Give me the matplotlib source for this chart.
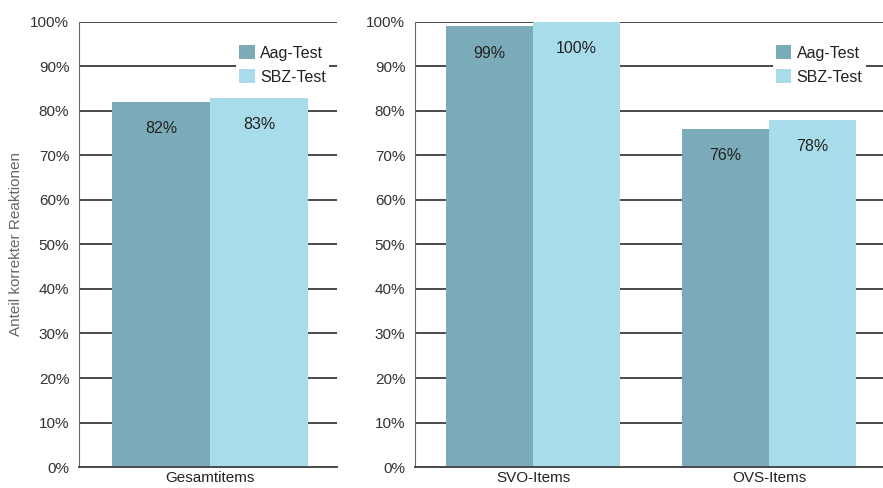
import matplotlib
matplotlib.use("Agg")
import matplotlib.pyplot as plt

# Werte (Anteil korrekter Reaktionen in %)
series = ["Aag-Test", "SBZ-Test"]
left_cats = ["Gesamtitems"]
left_aag = [82]
left_sbz = [83]
right_cats = ["SVO-Items", "OVS-Items"]
right_aag = [99, 76]
right_sbz = [100, 78]
yticks = list(range(0, 101, 10))

col_aag = "#7babb8"
col_sbz = "#a9dcea"
grid_col = "#4a4a4a"
txt_col = "#333333"

plt.rcParams["font.family"] = ["Liberation Sans", "DejaVu Sans"]

fig = plt.figure(figsize=(8.83, 4.88), dpi=100)
ax1 = fig.add_axes([0.0895, 0.043, 0.2922, 0.912])
ax2 = fig.add_axes([0.470, 0.043, 0.5345, 0.912])

w = 0.37


def draw(ax, cats, aag, sbz, xlim, leg_anchor):
    xs = list(range(len(cats)))
    ax.set_axisbelow(True)
    ax.yaxis.grid(True, color=grid_col, linewidth=1.4)
    b1 = ax.bar([x - w / 2 for x in xs], aag, width=w, color=col_aag, label=series[0], zorder=2)
    b2 = ax.bar([x + w / 2 for x in xs], sbz, width=w, color=col_sbz, label=series[1], zorder=2)
    for bars, vals in ((b1, aag), (b2, sbz)):
        for b, v in zip(bars, vals):
            ax.text(b.get_x() + b.get_width() / 2, v - 6, f"{v}%", ha="center", va="center",
                    fontsize=11.5, color="#222222", zorder=3)
    ax.set_ylim(0, 100)
    ax.set_xlim(*xlim)
    ax.set_yticks(yticks)
    ax.set_yticklabels([f"{t}%" for t in yticks])
    ax.set_xticks(xs)
    ax.set_xticklabels(cats)
    ax.tick_params(axis="y", length=0, pad=7, labelsize=11, labelcolor=txt_col)
    ax.tick_params(axis="x", length=0, pad=3, labelsize=11, labelcolor="#222222")
    for s in ("top", "right"):
        ax.spines[s].set_visible(False)
    ax.spines["left"].set_color("#666666")
    ax.spines["bottom"].set_color(grid_col)
    ax.spines["bottom"].set_linewidth(1.4)
    leg = ax.legend(loc="upper right", bbox_to_anchor=leg_anchor, frameon=True, framealpha=1,
                    facecolor="white", edgecolor="none", fontsize=11.5, handlelength=0.95,
                    handleheight=0.95, handletextpad=0.35, labelspacing=0.55, borderpad=0.2,
                    borderaxespad=0)
    for t in leg.get_texts():
        t.set_color("#222222")


draw(ax1, left_cats, left_aag, left_sbz, (-0.494, 0.48), (0.97, 0.955))
draw(ax2, right_cats, right_aag, right_sbz, (-0.5, 1.5), (0.955, 0.955))

ax1.set_ylabel("Anteil korrekter Reaktionen", fontsize=11, color="#666666", labelpad=5)

fig.savefig("out.png", dpi=100)
